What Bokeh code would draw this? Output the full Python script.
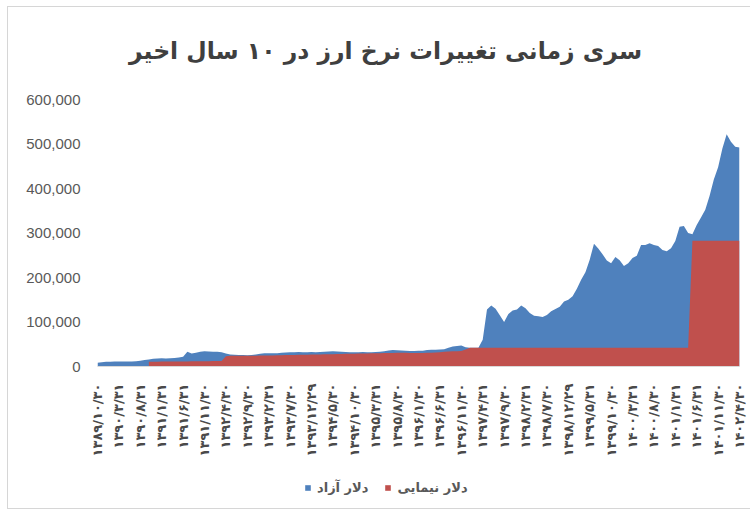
import math
from bokeh.plotting import figure
from bokeh.layouts import column
from bokeh.models import (FixedTicker, NumeralTickFormatter, Legend, LegendItem,
                          Range1d, ColumnDataSource, Label)
from bokeh.embed import file_html
from bokeh.resources import INLINE

# ---------------- data ----------------
title_text = "سری زمانی تغییرات نرخ ارز در ۱۰ سال اخیر"
series_names = ["دلار آزاد", "دلار نیمایی"]

# month index 0 = 1389/10 ... 150 = 1402/4
tick_labels = [
    "۱۳۸۹/۱۰/۳۰", "۱۳۹۰/۳/۳۱", "۱۳۹۰/۸/۳۱", "۱۳۹۱/۱/۳۱", "۱۳۹۱/۶/۳۱",
    "۱۳۹۱/۱۱/۳۰", "۱۳۹۲/۴/۳۰", "۱۳۹۲/۹/۳۰", "۱۳۹۳/۲/۳۱", "۱۳۹۳/۷/۳۰",
    "۱۳۹۳/۱۲/۲۹", "۱۳۹۴/۵/۳۰", "۱۳۹۴/۱۰/۳۰", "۱۳۹۵/۳/۳۱", "۱۳۹۵/۸/۳۰",
    "۱۳۹۶/۱/۳۰", "۱۳۹۶/۶/۳۱", "۱۳۹۶/۱۱/۳۰", "۱۳۹۷/۴/۳۱", "۱۳۹۷/۹/۳۰",
    "۱۳۹۸/۲/۳۱", "۱۳۹۸/۷/۳۰", "۱۳۹۸/۱۲/۲۹", "۱۳۹۹/۵/۳۱", "۱۳۹۹/۱۰/۳۰",
    "۱۴۰۰/۳/۳۱", "۱۴۰۰/۸/۳۰", "۱۴۰۱/۱/۳۱", "۱۴۰۱/۶/۳۱", "۱۴۰۱/۱۱/۳۰",
    "۱۴۰۲/۴/۳۰",
]
tick_step = 5

free_dollar = [
    8500, 9500, 10500, 10800, 11000, 11000, 11200, 11300, 11500, 12000,
    13000, 14500, 16000, 17500, 18000, 18500, 18000, 18500, 19000, 20000,
    22000, 33000, 29000, 31000, 33000, 34000, 33500, 33000, 33000, 32000,
    29000, 27000, 26500, 26000, 26000, 25500, 26000, 27000, 28500, 30000,
    30000, 29500, 30000, 31000, 31500, 32000, 32000, 32500, 32000, 32000,
    32500, 32000, 32500, 33000, 33500, 34000, 33500, 33000, 32500, 32000,
    32000, 32000, 32500, 32000, 32000, 32500, 33000, 34000, 36000, 37000,
    36500, 36000, 35500, 35000, 35000, 35500, 35500, 37000, 37500, 37500,
    38000, 39000, 42000, 45000, 46000, 47000, 43000, 42000, 42000, 42000,
    60000, 128000, 137000, 130000, 115000, 100000, 118000, 126000, 128000, 137000,
    131000, 120000, 114000, 113000, 111000, 116000, 124000, 129000, 134000, 146000,
    150000, 158000, 175000, 195000, 212000, 240000, 276000, 265000, 252000, 238000,
    232000, 246000, 239000, 226000, 232000, 244000, 249000, 273000, 273000, 277000,
    273000, 271000, 262000, 259000, 266000, 282000, 314000, 316000, 300000, 297000,
    318000, 335000, 352000, 383000, 420000, 448000, 490000, 522000, 505000, 494000,
    492000,
]

nima_dollar = [
    None, None, None, None, None, None, None, None, None, None,
    None, None, 10500, 10600, 10700, 11000, 11000, 11100, 11200, 11300,
    11400, 11500, 11600, 11700, 11800, 11900, 12000, 12100, 12200, 12260,
    23000, 24000, 24000, 24000, 24100, 24200, 24300, 24400, 24500, 24700,
    24800, 25000, 25200, 25400, 25600, 25800, 26000, 26200, 26400, 26600,
    26800, 27000, 27200, 27400, 27600, 27800, 28000, 28200, 28400, 28600,
    28800, 29000, 29200, 29400, 29600, 29800, 30000, 30200, 30400, 30600,
    30800, 31000, 31000, 30500, 30500, 30500, 30600, 30800, 31000, 31500,
    32000, 33000, 33500, 34000, 34500, 35000, 38000, 42000, 42000, 42000,
    42000, 42000, 42000, 42000, 42000, 42000, 42000, 42000, 42000, 42000,
    42000, 42000, 42000, 42000, 42000, 42000, 42000, 42000, 42000, 42000,
    42000, 42000, 42000, 42000, 42000, 42000, 42000, 42000, 42000, 42000,
    42000, 42000, 42000, 42000, 42000, 42000, 42000, 42000, 42000, 42000,
    42000, 42000, 42000, 42000, 42000, 42000, 42000, 42000, 42000, 282500,
    282500, 282500, 282500, 282500, 282500, 282500, 282500, 282500, 282500, 282500,
    282500,
]

y_ticks = [0, 100000, 200000, 300000, 400000, 500000, 600000]

# ---------------- figure ----------------
BLUE = "#4f81bd"
RED = "#c0504d"
TXT = "#595959"

n = len(free_dollar)
months = list(range(n))

PLOT_H = 267      # height of the 0..600,000 band
TOP_PAD = 92      # room above it (title lives here, inside the frame)
frame_h = PLOT_H + TOP_PAD
y_top = y_ticks[-1] * frame_h / PLOT_H

p = figure(frame_width=642, frame_height=frame_h, output_backend="svg",
           toolbar_location=None,
           x_range=Range1d(0, n - 1), y_range=Range1d(y_ticks[0], y_top),
           min_border_left=89, min_border_right=11, min_border_top=0,
           min_border_bottom=102)
p.outline_line_color = None
p.xgrid.visible = False
p.ygrid.visible = False
p.background_fill_color = "white"
p.border_fill_color = "white"

src_free = ColumnDataSource(dict(x=months, y=free_dollar, z=[0] * n))
r_free = p.varea(x="x", y1="z", y2="y", source=src_free, fill_color=BLUE)

nx = [m for m, v in zip(months, nima_dollar) if v is not None]
ny = [v for v in nima_dollar if v is not None]
src_nima = ColumnDataSource(dict(x=nx, y=ny, z=[0] * len(nx)))
r_nima = p.varea(x="x", y1="z", y2="y", source=src_nima, fill_color=RED)

# title (screen units, relative to the frame's bottom-left corner)
title = Label(x=288, y=316, x_units="screen", y_units="screen", text=title_text,
              text_align="center", text_baseline="middle",
              text_font="DejaVu Sans", text_font_size="23.5px",
              text_font_style="bold", text_color="#3f3f3f")
p.add_layout(title)

# y axis
ya = p.yaxis[0]
ya.ticker = FixedTicker(ticks=y_ticks)
ya.formatter = NumeralTickFormatter(format="0,0")
ya.axis_line_color = None
ya.major_tick_line_color = None
ya.minor_tick_line_color = None
ya.major_label_standoff = 11
ya.major_label_text_font = "Liberation Sans"
ya.major_label_text_font_size = "15px"
ya.major_label_text_color = TXT

# x axis
xa = p.xaxis[0]
ticks = [i * tick_step for i in range(len(tick_labels))]
xa.ticker = FixedTicker(ticks=ticks)
xa.major_label_overrides = {tk: lab for tk, lab in zip(ticks, tick_labels)}
xa.major_label_orientation = math.pi / 2
xa.axis_line_color = "#d9d9d9"
xa.axis_line_width = 1
xa.major_tick_line_color = None
xa.minor_tick_line_color = None
xa.major_label_standoff = 11
xa.major_label_text_font = "DejaVu Sans"
xa.major_label_text_font_size = "13px"
xa.major_label_text_font_style = "bold"
xa.major_label_text_color = "#4a4a4a"

# legend strip (separate small figure so the legend sits below the axis);
# it reuses the same sources, kept outside its visible range
q = figure(width=742, height=40, output_backend="svg", toolbar_location=None,
           x_axis_location=None, y_axis_location=None,
           min_border=0, x_range=Range1d(-1000, -999), y_range=Range1d(-1000, -999))
q.outline_line_color = None
q.xgrid.visible = False
q.ygrid.visible = False
q.border_fill_color = "white"
q.background_fill_color = "white"
l_free = q.varea(x="x", y1="z", y2="y", source=src_free, fill_color=BLUE)
l_nima = q.varea(x="x", y1="z", y2="y", source=src_nima, fill_color=RED)
legend = Legend(items=[LegendItem(label=series_names[0], renderers=[l_free]),
                       LegendItem(label=series_names[1], renderers=[l_nima])],
                orientation="horizontal", location=(207, 13),
                label_text_font="DejaVu Sans", label_text_font_size="13px",
                label_text_font_style="bold", label_text_color=TXT,
                glyph_width=7, glyph_height=7, label_standoff=6, spacing=16,
                border_line_color=None, background_fill_alpha=0,
                margin=0, padding=4)
q.add_layout(legend)

layout = column(p, q, spacing=0)
layout.styles = {"margin-left": "8px", "margin-top": "7px",
                 "outline": "1px solid #d6d6d6", "background-color": "white"}

html = file_html(layout, INLINE)
html = html.replace("<body>", '<body style="background:#f0f0f0">', 1)
open("out.html", "w").write(html)
